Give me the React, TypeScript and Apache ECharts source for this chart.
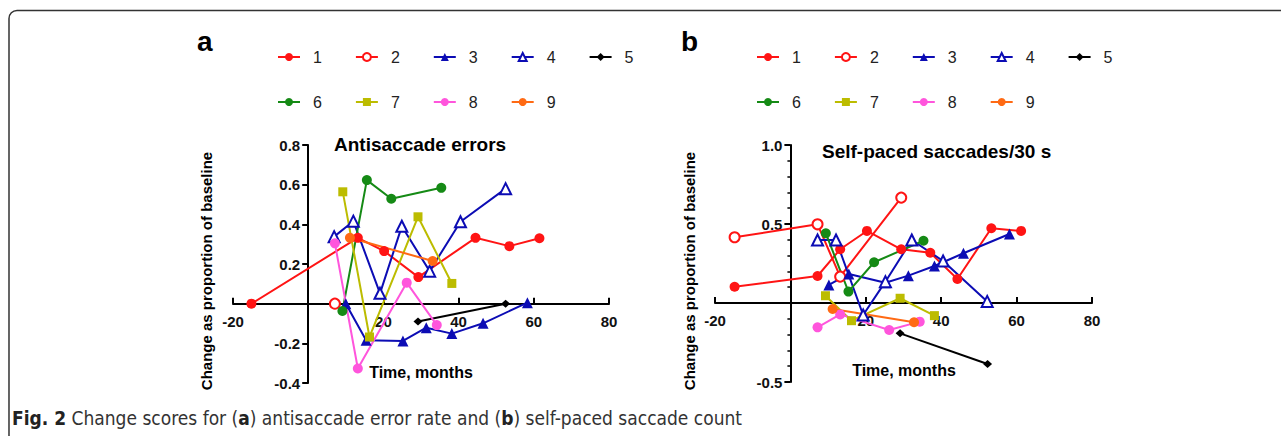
import React, { useEffect, useRef } from "react";
import * as echarts from "echarts";

// ---------- data ----------
const seriesNames = ["1", "2", "3", "4", "5", "6", "7", "8", "9"];
const legendRow1 = ["1", "2", "3", "4", "5"];
const legendRow2 = ["6", "7", "8", "9"];

const xTicks = [-20, 0, 20, 40, 60, 80];
const yTicksA = [-0.4, -0.2, 0, 0.2, 0.4, 0.6, 0.8];
const yTicksB = [-0.5, 0, 0.5, 1.0];

// Panel a: Antisaccade errors  [months, change]
const a1 = [[-15.1, 0], [13.2, 0.332], [20.2, 0.265], [29.3, 0.134], [44.5, 0.332], [53.5, 0.29], [61.5, 0.33]];
const a2 = [[7.1, 0]];
const a3 = [[10, 0], [15.4, -0.185], [25.2, -0.188], [31.4, -0.121], [38.2, -0.151], [46.5, -0.099], [58.3, 0.005]];
const a4 = [[6.9, 0.338], [12, 0.416], [19.1, 0.052], [24.9, 0.39], [32.3, 0.164], [40.5, 0.413], [52.5, 0.58]];
const a5 = [[29.2, -0.09], [52.5, 0]];
const a6 = [[9.1, -0.037], [15.6, 0.623], [22.1, 0.529], [35.4, 0.584]];
const a7 = [[9.2, 0.564], [16.3, -0.168], [29.2, 0.438], [38.2, 0.102]];
const a8 = [[7.1, 0.304], [13.2, -0.327], [26.2, 0.106], [34.2, -0.108]];
const a9 = [[11.1, 0.332], [33.1, 0.215]];

// Panel b: Self-paced saccades/30 s
const b1 = [[-14.8, 0.103], [7.2, 0.171], [13.2, 0.34], [20.3, 0.456], [29.4, 0.34], [37.1, 0.318], [44.3, 0.152], [53.3, 0.473], [61.2, 0.456]];
const b2 = [[-14.8, 0.416], [7.2, 0.498], [13.2, 0.167], [29.4, 0.667]];
const b3 = [[10.2, 0.114], [15.5, 0.184], [25.2, 0.128], [31.3, 0.173], [38.2, 0.234], [45.9, 0.315], [58.1, 0.437]];
const b4 = [[7.2, 0.399], [12.1, 0.399], [19.3, -0.076], [25.2, 0.135], [32.2, 0.399], [40.5, 0.266], [52.2, 0.01]];
const b5 = [[29.1, -0.192], [52.3, -0.386]];
const b6 = [[9.4, 0.441], [15.4, 0.072], [22.2, 0.258], [35.3, 0.394]];
const b7 = [[9.3, 0.046], [16.2, -0.112], [29.1, 0.03], [38.2, -0.08]];
const b8 = [[7.2, -0.154], [13.2, -0.072], [26.2, -0.171], [34.3, -0.118]];
const b9 = [[11.2, -0.038], [32.8, -0.122]];

const panelA = [a1, a2, a3, a4, a5, a6, a7, a8, a9];
const panelB = [b1, b2, b3, b4, b5, b6, b7, b8, b9];

// ---------- styles ----------
const colors = ["#ff1414", "#ff1414", "#0c0cb4", "#0c0cb4", "#000000", "#158a15", "#bcbc00", "#ff55dc", "#ff6a14"];
const symbols = ["circle", "emptyCircle", "triangle", "emptyTriangle", "diamond", "circle", "rect", "circle", "circle"];
const symbolSizes: any[] = [10, 10, 11, 11, [9, 8], 10, 9, 10, 10];

const FONT = "'Liberation Sans', Arial, Helvetica, sans-serif";
const CAPTION_FONT = "'DejaVu Sans Condensed', 'DejaVu Sans', sans-serif";

const GRID_A = { left: 233, top: 145, width: 376, height: 238 };
const GRID_B = { left: 715, top: 145, width: 377, height: 237 };

const makeSeries = (panel: number, values: number[][][]) =>
  values.map((d, i) => ({
    type: "line",
    name: seriesNames[i],
    xAxisIndex: panel,
    yAxisIndex: panel,
    data: d,
    symbol: symbols[i],
    symbolSize: symbolSizes[i],
    showSymbol: true,
    showAllSymbol: true,
    clip: false,
    lineStyle: { color: colors[i], width: 2 },
    itemStyle: { color: colors[i], borderColor: colors[i], borderWidth: symbols[i].startsWith("empty") ? 1.8 : 0 },
    emphasis: { disabled: true },
    z: 3,
  }));

const fmt1 = (v: number) => (Math.abs(v) < 1e-9 ? "" : v.toFixed(1));
const fmtX = (v: number) => (Math.abs(v) < 1e-9 ? "" : String(Math.round(v)));

// offset of an axis so that it crosses the other axis at its zero
const zeroOffset = (ticks: number[], size: number, fromMax: boolean) => {
  const min = ticks[0];
  const max = ticks[ticks.length - 1];
  const frac = fromMax ? (max - 0) / (max - min) : (0 - min) / (max - min);
  return -frac * size;
};

const makeXAxis = (gridIndex: number, yTicks: number[], grid: any) => ({
  type: "value",
  gridIndex,
  position: "bottom",
  offset: zeroOffset(yTicks, grid.height, false),
  min: xTicks[0],
  max: xTicks[xTicks.length - 1],
  interval: xTicks[1] - xTicks[0],
  axisLine: { show: true, onZero: false, lineStyle: { color: "#000", width: 2 } },
  axisTick: { show: true, inside: true, length: 6, lineStyle: { color: "#000", width: 2 } },
  axisLabel: {
    formatter: fmtX,
    margin: 10,
    color: "#111",
    fontSize: 15,
    fontWeight: "bold",
    fontFamily: FONT,
    showMinLabel: true,
    showMaxLabel: true,
  },
  splitLine: { show: false },
});

const makeYAxis = (gridIndex: number, ticks: number[], minor: boolean, grid: any) => ({
  type: "value",
  gridIndex,
  position: "left",
  offset: zeroOffset(xTicks, grid.width, false),
  min: ticks[0],
  max: ticks[ticks.length - 1],
  interval: ticks[1] - ticks[0],
  axisLine: { show: true, onZero: false, lineStyle: { color: "#000", width: 2 } },
  axisTick: { show: true, inside: false, length: 6, lineStyle: { color: "#000", width: 2 } },
  minorTick: { show: minor, splitNumber: 5, length: 3, lineStyle: { color: "#000", width: 1.5 } },
  axisLabel: {
    formatter: fmt1,
    margin: 8,
    color: "#111",
    fontSize: 15,
    fontWeight: "bold",
    fontFamily: FONT,
    showMinLabel: true,
    showMaxLabel: true,
  },
  splitLine: { show: false },
});

const legendBase = {
  orient: "horizontal",
  itemWidth: 22,
  itemHeight: 10,
  itemGap: 33,
  padding: 0,
  selectedMode: false,
  textStyle: { fontSize: 16, color: "#222", fontFamily: FONT, padding: [0, 0, 0, 8] },
};

export default function App() {
  const ref = useRef<HTMLDivElement>(null);

  useEffect(() => {
    if (!ref.current) return;
    const chart = echarts.init(ref.current, undefined, { renderer: "svg" });
    const option: any = {
      animation: false,
      backgroundColor: "#ffffff",
      textStyle: { fontFamily: FONT },
      grid: [
        { ...GRID_A, containLabel: false },
        { ...GRID_B, containLabel: false },
      ],
      xAxis: [makeXAxis(0, yTicksA, GRID_A), makeXAxis(1, yTicksB, GRID_B)],
      yAxis: [makeYAxis(0, yTicksA, false, GRID_A), makeYAxis(1, yTicksB, true, GRID_B)],
      legend: [
        { ...legendBase, data: legendRow1, left: 277, top: 49 },
        { ...legendBase, data: legendRow2, left: 277, top: 94 },
        { ...legendBase, data: legendRow1, left: 756, top: 49 },
        { ...legendBase, data: legendRow2, left: 756, top: 94 },
      ],
      series: [...makeSeries(0, panelA), ...makeSeries(1, panelB)],
      graphic: [
        {
          type: "rect",
          silent: true,
          shape: { x: 9, y: 10.5, width: 1400, height: 600, r: 8 },
          style: { fill: "none", stroke: "#333", lineWidth: 1.5 },
        },
        {
          type: "text", x: 197, y: 41,
          style: { text: "a", fontSize: 28, fontWeight: "bold", fontFamily: FONT, fill: "#000", align: "left", verticalAlign: "middle" },
        },
        {
          type: "text", x: 681, y: 41,
          style: { text: "b", fontSize: 28, fontWeight: "bold", fontFamily: FONT, fill: "#000", align: "left", verticalAlign: "middle" },
        },
        {
          type: "text", x: 334, y: 144,
          style: { text: "Antisaccade errors", fontSize: 19, fontWeight: "bold", fontFamily: FONT, fill: "#000", align: "left", verticalAlign: "middle" },
        },
        {
          type: "text", x: 822, y: 151,
          style: { text: "Self-paced saccades/30 s", fontSize: 19, fontWeight: "bold", fontFamily: FONT, fill: "#000", align: "left", verticalAlign: "middle" },
        },
        {
          type: "text", x: 421, y: 372,
          style: { text: "Time, months", fontSize: 16, fontWeight: "bold", fontFamily: FONT, fill: "#000", align: "center", verticalAlign: "middle" },
        },
        {
          type: "text", x: 904, y: 370,
          style: { text: "Time, months", fontSize: 16, fontWeight: "bold", fontFamily: FONT, fill: "#000", align: "center", verticalAlign: "middle" },
        },
        {
          type: "text", x: 206, y: 271, rotation: Math.PI / 2,
          style: { text: "Change as proportion of baseline", fontSize: 15, fontWeight: "bold", fontFamily: FONT, fill: "#000", align: "center", verticalAlign: "middle" },
        },
        {
          type: "text", x: 689, y: 271, rotation: Math.PI / 2,
          style: { text: "Change as proportion of baseline", fontSize: 15, fontWeight: "bold", fontFamily: FONT, fill: "#000", align: "center", verticalAlign: "middle" },
        },
        {
          type: "text", x: 12, y: 418,
          style: {
            text: "{b|Fig. 2} Change scores for ({b|a}) antisaccade error rate and ({b|b}) self-paced saccade count",
            fontSize: 19,
            fontFamily: CAPTION_FONT,
            fill: "#333",
            align: "left",
            verticalAlign: "middle",
            rich: {
              b: {
                fontSize: 19,
                fontWeight: "bold",
                fontFamily: CAPTION_FONT,
                fill: "#222",
              },
            },
          },
        },
      ],
    };
    chart.setOption(option);
    return () => chart.dispose();
  }, []);

  return (
    <div
      ref={ref}
      style={{ position: "fixed", left: 0, top: 0, width: 1281, height: 436 }}
    />
  );
}
